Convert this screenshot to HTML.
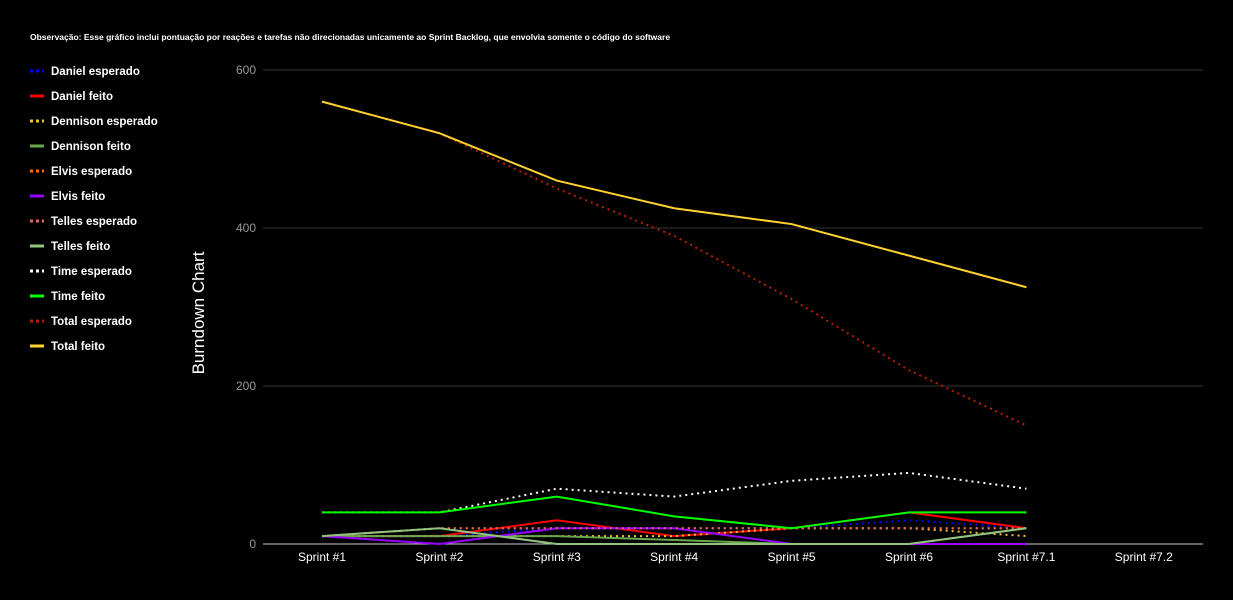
<!DOCTYPE html>
<html><head><meta charset="utf-8"><style>
body{margin:0;background:#000;width:1233px;height:595px;overflow:hidden;font-family:"Liberation Sans",sans-serif}
</style></head><body>
<svg id="c" width="1233" height="595"></svg>
<script>
const categories=["Sprint #1","Sprint #2","Sprint #3","Sprint #4","Sprint #5","Sprint #6","Sprint #7.1","Sprint #7.2"];
const seriesNames=["Daniel esperado","Daniel feito","Dennison esperado","Dennison feito","Elvis esperado","Elvis feito","Telles esperado","Telles feito","Time esperado","Time feito","Total esperado","Total feito"];
const danielEsperado=[10,10,20,20,20,30,20];
const danielFeito=[10,10,30,10,20,40,20];
const dennisonEsperado=[10,10,10,10,20,20,10];
const dennisonFeito=[10,10,10,5,0,0,20];
const elvisEsperado=[10,20,20,20,20,20,20];
const elvisFeito=[10,0,20,20,0,0,0];
const tellesEsperado=[10,20,20,20,20,20,20];
const tellesFeito=[10,20,0,0,0,0,20];
const timeEsperado=[40,40,70,60,80,90,70];
const timeFeito=[40,40,60,35,20,40,40];
const totalEsperado=[560,520,450,390,310,220,150];
const totalFeito=[560,520,460,425,405,365,325];
const yTicks=[0,200,400,600];
const seriesData=[danielEsperado,danielFeito,dennisonEsperado,dennisonFeito,elvisEsperado,elvisFeito,tellesEsperado,tellesFeito,timeEsperado,timeFeito,totalEsperado,totalFeito];
const colors=["#0000ff","#ff0000","#f1c232","#6aa84f","#ff6d01","#9900ff","#e06666","#93c47d","#ffffff","#00ff00","#b91f00","#ffd230"];
const dashed=[1,0,1,0,1,0,1,0,1,0,1,0];
const NS="http://www.w3.org/2000/svg";
const svg=document.getElementById('c');
function x(i){return 322+i*117.4;}
function y(v){return 544-v*0.79;}
function mk(t,a,p){const e=document.createElementNS(NS,t);for(const k in a)e.setAttribute(k,a[k]);(p||svg).appendChild(e);return e;}
let t=mk('text',{x:30,y:40,fill:'#fff','font-size':8.5,'font-weight':'bold'});t.textContent="Observação: Esse gráfico inclui pontuação por reações e tarefas não direcionadas unicamente ao Sprint Backlog, que envolvia somente o código do software";


yTicks.forEach(v=>{
 const g=mk('line',{x1:263,x2:1203,y1:y(v),y2:y(v),stroke:v==0?'#ccc':'#333','stroke-width':1});
 
 
 const l=mk('text',{x:256,y:y(v)+4,fill:'#999','font-size':12,'text-anchor':'end'});l.textContent=v;
 
 
});
categories.forEach((c,i)=>{
 const l=mk('text',{x:x(i),y:561,fill:'#fff','font-size':12,'text-anchor':'middle'});l.textContent=c;
 
 
});
const yt=mk('text',{x:0,y:0,fill:'#fff','font-size':17,'text-anchor':'middle',transform:'translate(204,313) rotate(-90)'});yt.textContent="Burndown Chart";


seriesData.forEach((d,s)=>{
 const p=mk('polyline',{points:d.map((v,i)=>x(i)+','+y(v)).join(' '),fill:'none',stroke:colors[s],'stroke-width':2,'stroke-dasharray':dashed[s]?'2,4':'none'});
 
 
 const ly=71+s*25;
 const ln=mk('line',{x1:30,x2:44,y1:ly,y2:ly,stroke:colors[s],'stroke-width':3,'stroke-dasharray':dashed[s]?'3,3':'none'});
 
 
 const lt=mk('text',{x:51,y:ly+4,fill:'#fff','font-size':11.5,'font-weight':'bold'});lt.textContent=seriesNames[s];
 
 
});
</script>
</body></html>
